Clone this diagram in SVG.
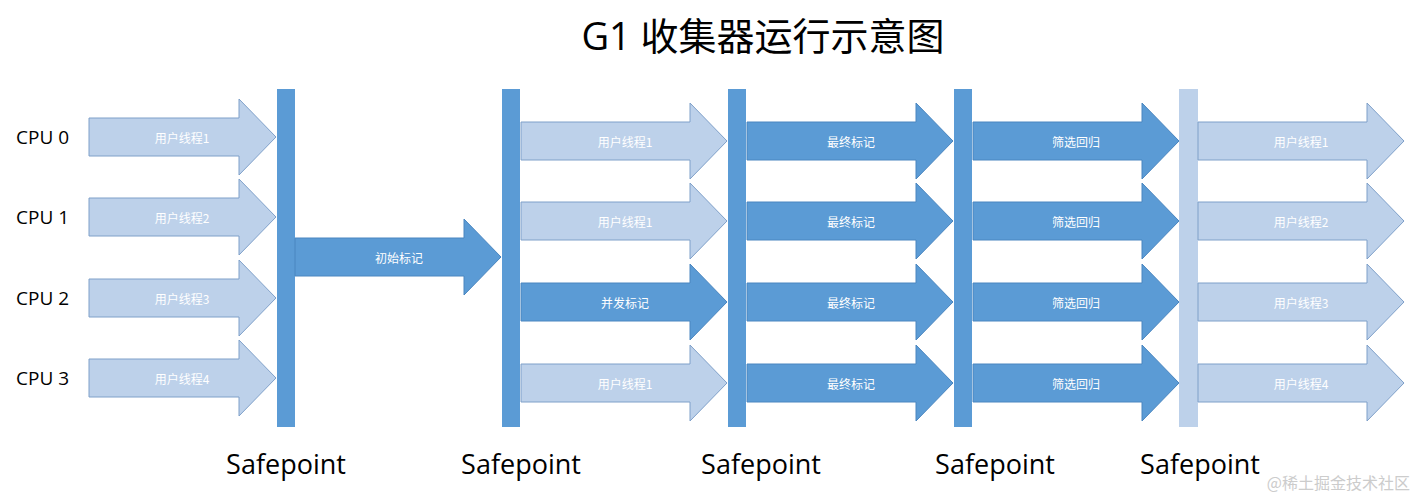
<svg xmlns="http://www.w3.org/2000/svg" xmlns:xlink="http://www.w3.org/1999/xlink" width="1418" height="499" viewBox="0 0 1418 499">
<style>
.l{fill:#bdd1ea;stroke:#7fa0c9;stroke-width:1}
.d{fill:#5b9bd5;stroke:#4a86c0;stroke-width:1}
.t{font-family:"Noto Sans CJK SC","Liberation Sans",sans-serif;font-size:12px;fill:#fff;text-anchor:middle;dominant-baseline:central}
.cpu{font-family:"Open Sans","Liberation Sans",sans-serif;font-size:19px;fill:#000;dominant-baseline:central}
.sp{font-family:"Open Sans","Liberation Sans",sans-serif;font-size:27px;fill:#000;text-anchor:middle}
.bar{fill:#5b9bd5}
</style>
<defs>
<path id="a1" d="M0,-19 H150 V-38 L187,0 L150,38 V19 H0 Z"/>
<path id="a2" d="M0,-19 H169 V-38 L206,0 L169,38 V19 H0 Z"/>
</defs>
<rect width="1418" height="499" fill="#fff"/>
<text x="763" y="50" font-family="'Open Sans','Noto Sans CJK SC',sans-serif" font-size="38" text-anchor="middle">G1 收集器运行示意图</text>
<g id="labels">
<text class="cpu" x="16" y="137">CPU 0</text>
<text class="cpu" x="16" y="217">CPU 1</text>
<text class="cpu" x="16" y="298">CPU 2</text>
<text class="cpu" x="16" y="378">CPU 3</text>
</g>
<g id="bars">
<rect class="bar" x="277" y="89" width="18" height="338"/>
<rect class="bar" x="502" y="89" width="18" height="338"/>
<rect class="bar" x="728" y="89" width="18" height="338"/>
<rect class="bar" x="954" y="89" width="18" height="338"/>
<rect x="1179" y="89" width="19" height="338" fill="#bdd1ea"/>
</g>
<g id="connectors">
<use href="#a1" class="l" x="89" y="137"/><text class="t" x="182" y="137">用户线程1</text>
<use href="#a1" class="l" x="89" y="217"/><text class="t" x="182" y="217">用户线程2</text>
<use href="#a1" class="l" x="89" y="298"/><text class="t" x="182" y="298">用户线程3</text>
<use href="#a1" class="l" x="89" y="378"/><text class="t" x="182" y="378">用户线程4</text>
<use href="#a2" class="d" x="295" y="257"/><text class="t" x="399" y="257">初始标记</text>
<use href="#a2" class="l" x="521" y="141"/><text class="t" x="625" y="141">用户线程1</text>
<use href="#a2" class="l" x="521" y="221"/><text class="t" x="625" y="221">用户线程1</text>
<use href="#a2" class="d" x="521" y="302"/><text class="t" x="625" y="302">并发标记</text>
<use href="#a2" class="l" x="521" y="383"/><text class="t" x="625" y="383">用户线程1</text>
<use href="#a2" class="d" x="747" y="141"/><text class="t" x="851" y="141">最终标记</text>
<use href="#a2" class="d" x="747" y="221"/><text class="t" x="851" y="221">最终标记</text>
<use href="#a2" class="d" x="747" y="302"/><text class="t" x="851" y="302">最终标记</text>
<use href="#a2" class="d" x="747" y="383"/><text class="t" x="851" y="383">最终标记</text>
<use href="#a2" class="d" x="973" y="141"/><text class="t" x="1076" y="141">筛选回归</text>
<use href="#a2" class="d" x="973" y="221"/><text class="t" x="1076" y="221">筛选回归</text>
<use href="#a2" class="d" x="973" y="302"/><text class="t" x="1076" y="302">筛选回归</text>
<use href="#a2" class="d" x="973" y="383"/><text class="t" x="1076" y="383">筛选回归</text>
<use href="#a2" class="l" x="1198" y="141"/><text class="t" x="1301" y="141">用户线程1</text>
<use href="#a2" class="l" x="1198" y="221"/><text class="t" x="1301" y="221">用户线程2</text>
<use href="#a2" class="l" x="1198" y="302"/><text class="t" x="1301" y="302">用户线程3</text>
<use href="#a2" class="l" x="1198" y="383"/><text class="t" x="1301" y="383">用户线程4</text>
</g>
<g id="safepoints">
<text class="sp" x="286" y="474">Safepoint</text>
<text class="sp" x="521" y="474">Safepoint</text>
<text class="sp" x="761" y="474">Safepoint</text>
<text class="sp" x="995" y="474">Safepoint</text>
<text class="sp" x="1200" y="474">Safepoint</text>
</g>
<text x="1410" y="489" font-family="'Noto Sans CJK SC',sans-serif" font-size="16" fill="#ccc" text-anchor="end">@稀土掘金技术社区</text>
</svg>
